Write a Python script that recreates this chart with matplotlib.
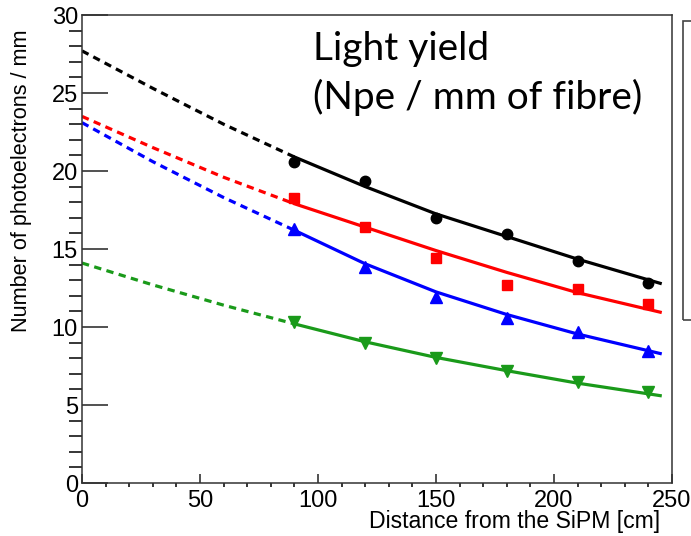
import numpy as np
import matplotlib
matplotlib.use("Agg")
import matplotlib.pyplot as plt
from matplotlib.patches import Rectangle

plt.rcParams['font.family'] = ['Liberation Sans', 'DejaVu Sans']

# measured points: distance from SiPM [cm] vs Npe / mm
dist = [90, 120, 150, 180, 210, 240]
npe_black = [20.6, 19.35, 17.0, 15.95, 14.25, 12.85]
npe_red = [18.3, 16.4, 14.4, 12.7, 12.45, 11.5]
npe_blue = [16.3, 13.85, 11.9, 10.6, 9.65, 8.45]
npe_green = [10.35, 9.0, 8.0, 7.2, 6.45, 5.85]

# fitted curves (dashed below 90 cm, solid above)
fit_x = [0, 30, 60, 90, 120, 150, 180, 210, 245]
fit_black = [27.7, 25.3, 23.0, 20.9, 19.0, 17.25, 15.8, 14.35, 12.8]
fit_red = [23.5, 21.5, 19.6, 17.9, 16.4, 14.9, 13.5, 12.2, 10.95]
fit_blue = [23.1, 20.6, 18.3, 16.2, 14.05, 12.25, 10.8, 9.55, 8.3]
fit_green = [14.1, 12.7, 11.4, 10.2, 9.05, 8.05, 7.2, 6.4, 5.6]

series = [
    (npe_black, fit_black, 'black', 'o', 7.5),
    (npe_red, fit_red, '#ff0000', 's', 6.5),
    (npe_blue, fit_blue, '#0000ff', '^', 8),
    (npe_green, fit_green, '#1a9a1a', 'v', 8),
]

fig = plt.figure(figsize=(6.91, 5.36), dpi=100)
ax = fig.add_axes([82/691, 53/536, 590/691, 468/536])

for pts, fit, col, mk, ms in series:
    ax.plot(fit_x[:4], fit[:4], color=col, lw=2.3, ls=(0, (2.3, 1.7)),
            dash_capstyle='butt')
    ax.plot(fit_x[3:], fit[3:], color=col, lw=2.3)
    ax.plot(dist, pts, ls='none', marker=mk, ms=ms, color=col, mec=col)

ax.set_xlim(0, 250)
ax.set_ylim(0, 30)
ax.set_xticks(np.arange(0, 251, 50))
ax.set_xticks(np.arange(0, 251, 10), minor=True)
ax.set_yticks(np.arange(0, 31, 5))
ax.set_yticks(np.arange(0, 31, 1), minor=True)
ax.tick_params(direction='in', labelsize=17, colors='#222222', labelcolor='black')
ax.tick_params(axis='x', which='major', length=6.5, width=1.1, pad=5)
ax.tick_params(axis='x', which='minor', length=3.2, width=1.1)
ax.tick_params(axis='y', which='major', length=18.5, width=1.1, pad=3)
ax.tick_params(axis='y', which='minor', length=9.4, width=1.1)
for s in ax.spines.values():
    s.set_linewidth(1.1)
    s.set_color('#333333')

ax.set_xlabel('Distance from the SiPM [cm]', fontsize=16.6, loc='right')
ax.xaxis.set_label_coords(0.98, -0.058)
ax.set_ylabel('Number of photoelectrons / mm', fontsize=15.6, loc='top')
ax.yaxis.set_label_coords(-0.085, 0.968)

fig.text(313/691, 1 - 31/536, 'Light yield\n(Npe / mm of fibre)',
         family=['Lato', 'DejaVu Sans'], fontsize=28, ha='left', va='top',
         linespacing=1.38)

# edge of the legend box cut off at the right border
fig.patches.append(Rectangle((683/691, 216/536), 0.05, 299/536,
                             transform=fig.transFigure, fill=False,
                             ec='#444444', lw=1.2))

fig.savefig('out.png', dpi=100)
